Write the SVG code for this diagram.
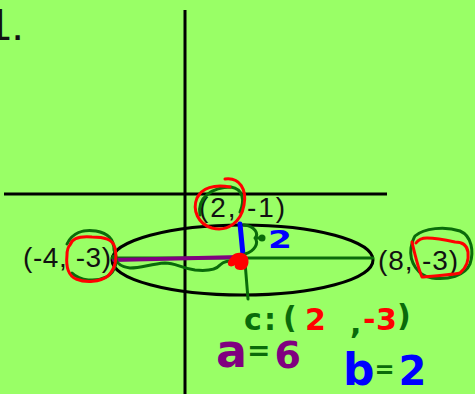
<svg xmlns="http://www.w3.org/2000/svg" width="475" height="394" viewBox="0 0 475 394">
<style>
.lbl{font-family:"Liberation Sans",Arial,sans-serif;font-size:28px;fill:#111}
.hw{font-family:"DejaVu Sans","Liberation Sans",sans-serif;font-weight:bold}
.ink{fill:none;stroke-linecap:round;stroke-linejoin:round}
.g{stroke:#0a6b0a}
.r{stroke:#ff0000}
.b{stroke:#0000ff}
.p{stroke:#800080}
</style>
<rect width="475" height="394" fill="#99ff66"/>
<text class="lbl" x="-13" y="40" style="font-size:44px">1.</text>
<g id="axes" stroke="#000" stroke-width="3">
<line x1="185" y1="10" x2="185" y2="394"/>
<line x1="4" y1="194" x2="387" y2="194"/>
</g>
<g id="ellipse">
<ellipse cx="242.5" cy="260" rx="130.5" ry="35" fill="none" stroke="#000" stroke-width="3"/>
</g>
<g id="connectors">
<path class="ink g" stroke-width="3" d="M112,258 L373,258"/>
<path class="ink p" stroke-width="4" d="M114,260 L240,257"/>
<path class="ink g" stroke-width="3" d="M113,256 C116,262 120,267 130,268 C142,268 150,264 165,263 C176,263 180,268 195,270 C205,271 215,271 220,265 C224,261 228,261 236,261"/>
<path class="ink g" stroke-width="3" d="M245,262 C246,275 247,288 248,299"/>
<path class="ink b" stroke-width="5" d="M240,224 L243,255"/>
<path class="ink g" stroke-width="3" d="M244,225 C255,226 259,234 255,238 C259,243 255,251 245,254 M255,238 L261,238"/>
<circle cx="262" cy="238" r="3.5" fill="#0a6b0a"/>
<path fill="#ff0000" d="M232,256 C236,251 246,252 248,258 C250,265 246,271 240,270 C236,270 234,267 235,265 C231,268 227,266 228,262 C229,259 231,258 232,256 Z"/>
</g>
<g id="label-top">
<text class="lbl" x="199" y="217" textLength="86">(2, -1)</text>
<path class="ink g" stroke-width="3" d="M200,215 C197,197 213,187 231,187 C243,189 245,200 240,212"/>
<path class="ink r" stroke-width="3" d="M225,179 C240,177 247,190 244,205 C241,222 228,232 212,228 C198,224 192,210 197,198 C202,188 214,184 230,187"/>
</g>
<g id="label-left">
<text class="lbl" x="23" y="267" textLength="88">(-4, -3)</text>
<path class="ink g" stroke-width="3" d="M67,244 C72,233 83,229 96,231 C108,233 114,240 114,250 C118,258 117,272 106,277 C96,282 80,281 72,273"/>
<path class="ink r" stroke-width="3" d="M70,245 C72,238 80,236 92,237 C104,237 113,239 115,248 C117,258 116,268 108,276 C100,282 86,283 76,279 C67,275 66,265 67,255 C67,250 68,247 70,245 Z"/>
</g>
<g id="label-right">
<text class="lbl" x="378" y="270" textLength="80">(8, -3)</text>
<path class="ink g" stroke-width="3" d="M415,236 C424,228 445,226 460,231 C472,236 474,252 470,264 C465,276 448,280 432,278 C418,276 409,262 411,248 C412,243 413,239 415,236"/>
<path class="ink r" stroke-width="3" d="M412,242 C415,255 418,268 422,277 C435,276 450,275 460,273 C466,268 469,260 468,252 C467,245 462,242 455,242 C446,240 436,238 427,238 C422,238 418,240 416,243"/>
</g>
<g id="center-note">
<text class="hw" y="330" style="font-size:30px"><tspan x="244" fill="#0a6b0a">c</tspan><tspan x="264" fill="#0a6b0a">:</tspan><tspan x="283" y="328" fill="#0a6b0a">(</tspan><tspan x="305" y="330" fill="#ff0000">2</tspan><tspan x="350" y="334" fill="#0a6b0a">,</tspan><tspan x="363" y="330" fill="#ff0000">-</tspan><tspan x="376" fill="#ff0000">3</tspan><tspan x="397" y="326" fill="#0a6b0a">)</tspan></text>
</g>
<g id="a-note">
<text class="hw" x="216" y="367"><tspan fill="#800080" style="font-size:46px">a</tspan><tspan y="360" fill="#0a6b0a" style="font-size:28px">=</tspan><tspan dx="4" y="368" fill="#800080" style="font-size:38px">6</tspan></text>
</g>
<g id="b-note">
<text class="hw" x="343" y="385"><tspan fill="#0000ff" style="font-size:44px">b</tspan><tspan y="378" fill="#0a6b0a" style="font-size:24px">=</tspan><tspan dx="4" y="385" fill="#0000ff" style="font-size:40px">2</tspan></text>
</g>
<g id="b-length">
<text class="hw" x="268" y="248" fill="#0000ff" style="font-size:24px" textLength="24" lengthAdjust="spacingAndGlyphs">2</text>
</g>
</svg>
